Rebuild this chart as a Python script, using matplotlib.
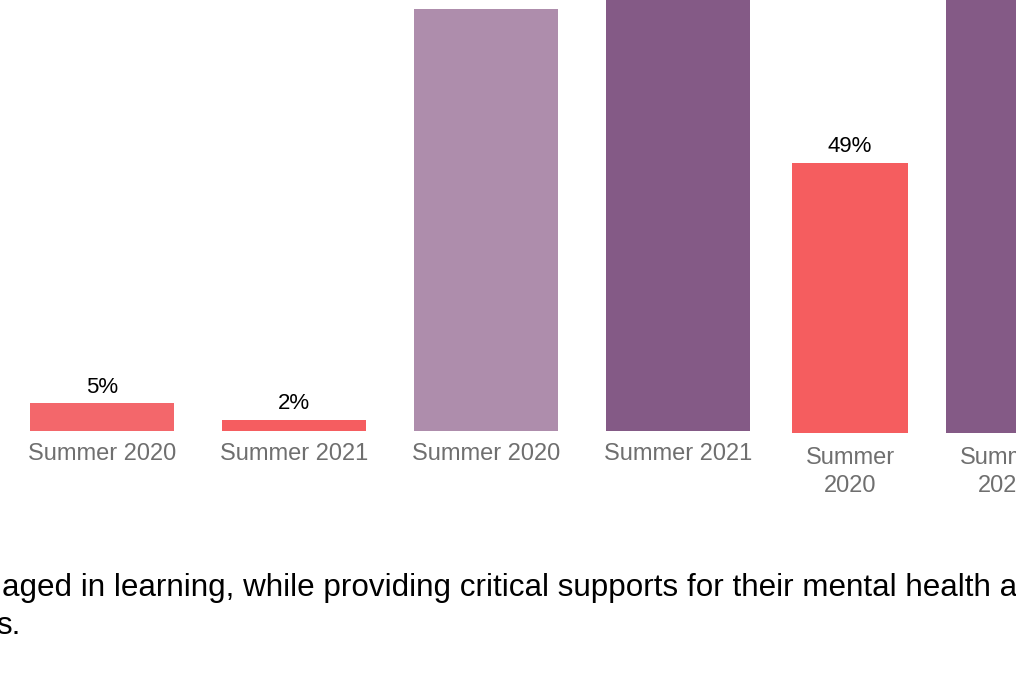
import matplotlib
matplotlib.use("Agg")
import matplotlib.pyplot as plt

plt.rcParams['font.family'] = ['Liberation Sans', 'DejaVu Sans']

# left group: four bars
left_labels = ["Summer 2020", "Summer 2021", "Summer 2020", "Summer 2021"]
left_values = [5, 2, 76, 82]
left_colors = ["#F3676B", "#F55D60", "#AE8DAC", "#845A86"]

# right group: two bars (cut off at the right edge)
right_labels = ["Summer\n2020", "Summer\n2021"]
right_values = [49, 85]
right_colors = ["#F55D5F", "#845A86"]

caption_1 = "aged in learning, while providing critical supports for their mental health a"
caption_2 = "s."

W, H = 1016, 696
fig = plt.figure(figsize=(W / 100, H / 100), dpi=100)


def px_axes(x0, x1, y_base):
    # axes from pixel x0..x1, top of figure down to baseline y_base
    return fig.add_axes([x0 / W, (H - y_base) / H, (x1 - x0) / W, y_base / H])


def style(ax, pad):
    for s in ax.spines.values():
        s.set_visible(False)
    ax.set_yticks([])
    ax.tick_params(axis="x", length=0, pad=pad, labelsize=17, labelcolor="#6F6F6F")
    ax.patch.set_alpha(0)


# left group
ax1 = px_axes(6, 774, 431)
bars1 = ax1.bar(range(len(left_values)), left_values, width=0.75, color=left_colors)
ax1.set_xlim(-0.5, len(left_values) - 0.5)
ax1.set_ylim(0, 431 / 5.55)
ax1.set_xticks(range(len(left_values)), left_labels)
style(ax1, 9)
ax1.bar_label(bars1, labels=[f"{v}%" for v in left_values[:2]] + ["", ""],
              padding=4, fontsize=16, color="black")

# right group
ax2 = px_axes(773, 1081, 433)
bars2 = ax2.bar(range(len(right_values)), right_values, width=0.75, color=right_colors)
ax2.set_xlim(-0.5, len(right_values) - 0.5)
ax2.set_ylim(0, 433 / 5.51)
ax2.set_xticks(range(len(right_values)), right_labels)
style(ax2, 10)
for t in ax2.get_xticklabels():
    t.set_linespacing(1.35)
ax2.bar_label(bars2, labels=[f"{right_values[0]}%", ""], padding=4, fontsize=16, color="black")

# caption text at the bottom
fig.text(2 / W, (H - 596) / H, caption_1, fontsize=22.6, color="black", va="baseline")
fig.text(-4 / W, (H - 634) / H, caption_2, fontsize=22.6, color="black", va="baseline")

fig.savefig("out.png", dpi=100)
